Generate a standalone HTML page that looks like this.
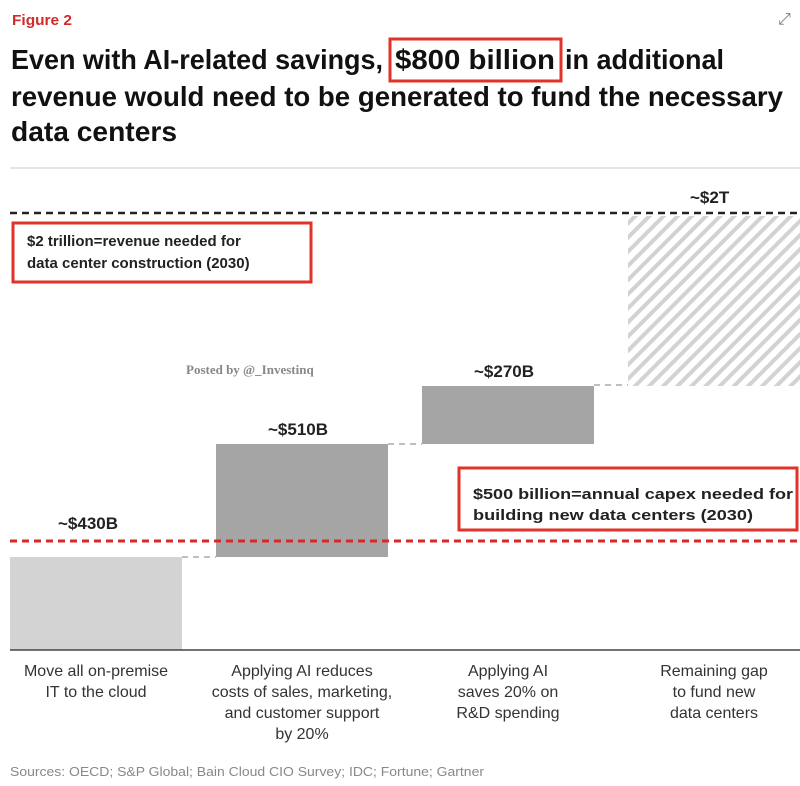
<!DOCTYPE html>
<html><head><meta charset="utf-8"><style>
html,body{margin:0;padding:0;background:#fff;}
svg{display:block;}
text{font-family:"Liberation Sans",sans-serif;}
</style></head><body>
<svg width="800" height="786" viewBox="0 0 800 786" xmlns="http://www.w3.org/2000/svg">
<defs>
<pattern id="h" patternUnits="userSpaceOnUse" width="10" height="10" patternTransform="rotate(45)">
<rect width="10" height="10" fill="#fff"/><rect width="4" height="10" fill="#d2d2d2"/>
</pattern>
</defs>
<text x="12" y="25" font-size="15" font-weight="bold" fill="#d42a2a" textLength="60" lengthAdjust="spacingAndGlyphs">Figure 2</text>
<text x="778" y="24" font-size="16" fill="#777">⤢</text>
<g font-size="28" font-weight="bold" fill="#111">
<text x="11" y="69" textLength="372" lengthAdjust="spacingAndGlyphs">Even with AI-related savings,</text>
<text x="395" y="69" textLength="160" lengthAdjust="spacingAndGlyphs">$800 billion</text>
<text x="565" y="69" textLength="159" lengthAdjust="spacingAndGlyphs">in additional</text>
<text x="11" y="106" textLength="772" lengthAdjust="spacingAndGlyphs">revenue would need to be generated to fund the necessary</text>
<text x="11" y="141" textLength="166" lengthAdjust="spacingAndGlyphs">data centers</text>
</g>
<rect x="390" y="39" width="171" height="42" fill="none" stroke="#e0332a" stroke-width="3"/>
<line x1="10" y1="168" x2="800" y2="168" stroke="#ddd" stroke-width="1.5"/>

<line x1="10" y1="213" x2="800" y2="213" stroke="#222" stroke-width="2.5" stroke-dasharray="7,5"/>
<text x="690" y="203" font-size="17" font-weight="bold" fill="#222">~$2T</text>
<rect x="628" y="216" width="172" height="170" fill="url(#h)"/>

<rect x="422" y="386" width="172" height="58" fill="#a5a5a5"/>
<text x="474" y="377" font-size="17" font-weight="bold" fill="#222">~$270B</text>
<rect x="216" y="444" width="172" height="113" fill="#a5a5a5"/>
<text x="268" y="435" font-size="17" font-weight="bold" fill="#222">~$510B</text>
<rect x="10" y="557" width="172" height="93" fill="#d3d3d3"/>
<text x="58" y="529" font-size="17" font-weight="bold" fill="#222">~$430B</text>

<g stroke="#aaa" stroke-width="1.5" stroke-dasharray="6,5">
<line x1="182" y1="557" x2="216" y2="557"/>
<line x1="388" y1="444" x2="422" y2="444"/>
<line x1="594" y1="385" x2="628" y2="385"/>
</g>
<line x1="10" y1="541" x2="800" y2="541" stroke="#d42a2a" stroke-width="3" stroke-dasharray="7,5"/>
<line x1="10" y1="650" x2="800" y2="650" stroke="#444" stroke-width="1.5"/>

<rect x="13" y="223" width="298" height="59" fill="#fff" stroke="#e0332a" stroke-width="3"/>
<text x="27" y="246" font-size="15" font-weight="bold" fill="#222">$2 trillion=revenue needed for</text>
<text x="27" y="268" font-size="15" font-weight="bold" fill="#222">data center construction (2030)</text>
<rect x="459" y="468" width="338" height="62" fill="#fff" stroke="#e0332a" stroke-width="3"/>
<text x="473" y="499" font-size="15" font-weight="bold" fill="#222" textLength="320" lengthAdjust="spacingAndGlyphs">$500 billion=annual capex needed for</text>
<text x="473" y="520" font-size="15" font-weight="bold" fill="#222" textLength="280" lengthAdjust="spacingAndGlyphs">building new data centers (2030)</text>

<text x="186" y="374" font-size="13" font-weight="bold" fill="#888" style="font-family:'Liberation Serif',serif">Posted by @_Investinq</text>

<g font-size="16" fill="#333" text-anchor="middle">
<text x="96" y="676">Move all on-premise</text>
<text x="96" y="697">IT to the cloud</text>
<text x="302" y="676">Applying AI reduces</text>
<text x="302" y="697">costs of sales, marketing,</text>
<text x="302" y="718">and customer support</text>
<text x="302" y="739">by 20%</text>
<text x="508" y="676">Applying AI</text>
<text x="508" y="697">saves 20% on</text>
<text x="508" y="718">R&amp;D spending</text>
<text x="714" y="676">Remaining gap</text>
<text x="714" y="697">to fund new</text>
<text x="714" y="718">data centers</text>
</g>
<text x="10" y="776" font-size="12.5" fill="#888" textLength="474" lengthAdjust="spacingAndGlyphs">Sources: OECD; S&amp;P Global; Bain Cloud CIO Survey; IDC; Fortune; Gartner</text>
</svg>
</body></html>
